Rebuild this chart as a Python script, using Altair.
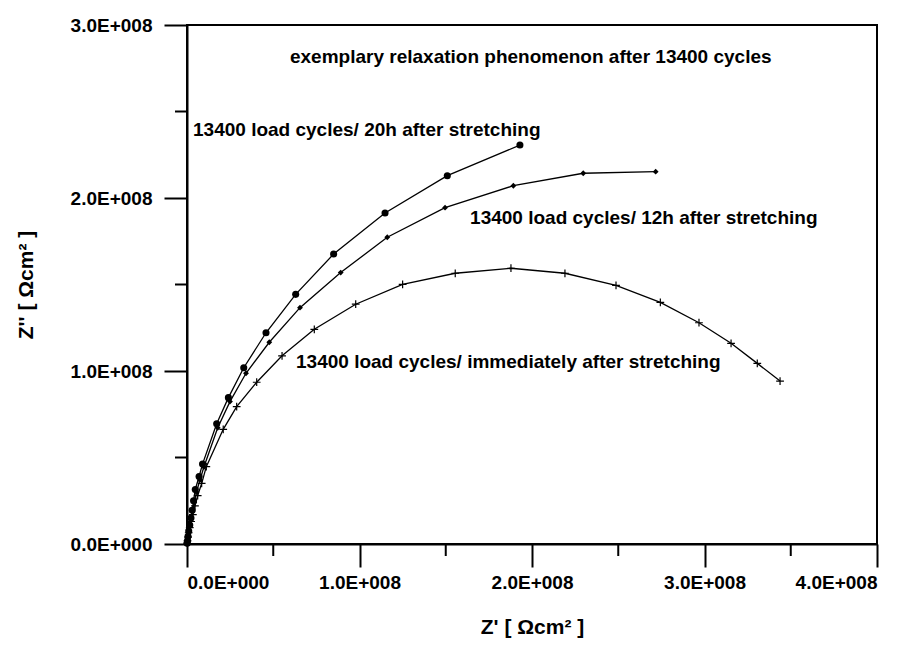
import altair as alt
import pandas as pd

# Series: 13400 load cycles / 20h after stretching (filled circles)
s20_x = [0.001, 0.003, 0.006, 0.010, 0.016, 0.023, 0.030, 0.038, 0.048, 0.070, 0.090,
         0.172, 0.240, 0.329, 0.458, 0.630, 0.850, 1.148, 1.509, 1.930]
s20_y = [0.005, 0.020, 0.045, 0.075, 0.110, 0.150, 0.195, 0.250, 0.315, 0.390, 0.462,
         0.695, 0.846, 1.019, 1.221, 1.443, 1.676, 1.913, 2.129, 2.306]

# Series: 13400 load cycles / 12h after stretching (diamonds)
s12_x = [0.001, 0.003, 0.006, 0.010, 0.016, 0.024, 0.032, 0.042, 0.055, 0.075, 0.098,
         0.178, 0.249, 0.342, 0.477, 0.655, 0.891, 1.161, 1.496, 1.892, 2.297, 2.717]
s12_y = [0.005, 0.020, 0.045, 0.072, 0.105, 0.145, 0.190, 0.240, 0.300, 0.370, 0.445,
         0.672, 0.823, 0.987, 1.166, 1.366, 1.569, 1.773, 1.944, 2.071, 2.143, 2.152]

# Series: 13400 load cycles / immediately after stretching (plus)
s0_x = [0.001, 0.003, 0.006, 0.010, 0.016, 0.024, 0.034, 0.046, 0.062, 0.085, 0.112,
        0.210, 0.288, 0.404, 0.551, 0.738, 0.978, 1.250, 1.555, 1.878, 2.191, 2.487,
        2.744, 2.968, 3.154, 3.306, 3.438]
s0_y = [0.005, 0.018, 0.040, 0.065, 0.095, 0.130, 0.170, 0.220, 0.280, 0.350, 0.447,
        0.663, 0.794, 0.935, 1.088, 1.241, 1.386, 1.501, 1.565, 1.594, 1.565, 1.495,
        1.397, 1.279, 1.160, 1.044, 0.942]

SCALE = 1e8

# Axis ticks (units of 1E8)
x_major = [0, 1, 2, 3, 4]
x_minor = [0.5, 1.5, 2.5, 3.5]
y_major = [0, 1, 2, 3]
y_minor = [0.5, 1.5, 2.5]

# Annotations
ann_text = ["exemplary relaxation phenomenon after 13400 cycles",
            "13400 load cycles/ 20h after stretching",
            "13400 load cycles/ 12h after stretching",
            "13400 load cycles/ immediately after stretching"]
ann_x = [0.597, 0.035, 1.641, 0.632]
ann_y = [2.815, 2.393, 1.884, 1.052]

FONT = "Liberation Sans"

def frame(xs, ys):
    return pd.DataFrame({"x": [v * SCALE for v in xs], "y": [v * SCALE for v in ys]})

d20, d12, d0 = frame(s20_x, s20_y), frame(s12_x, s12_y), frame(s0_x, s0_y)
ann = pd.DataFrame({"t": ann_text, "x": [v * SCALE for v in ann_x], "y": [v * SCALE for v in ann_y]})
xmin_df = pd.DataFrame({"x": [v * SCALE for v in x_minor]})
ymin_df = pd.DataFrame({"y": [v * SCALE for v in y_minor]})

label_expr = ("datum.value == 0 ? '0.0E+000' : "
              "format(datum.value / 100000000, '.1f') + 'E+008'")

xscale = alt.Scale(domain=[0, 4e8], nice=False, zero=False)
yscale = alt.Scale(domain=[0, 3e8], nice=False, zero=False)

x_enc = alt.X("x:Q", scale=xscale,
              axis=alt.Axis(values=[v * SCALE for v in x_major], labelExpr=label_expr,
                            title="Z' [ \u03a9cm\u00b2 ]", grid=False, tickSize=23,
                            tickWidth=2, tickColor="black", domainColor="black", domainWidth=2,
                            labelFont=FONT, labelFontSize=19, labelFontWeight="bold", labelColor="black",
                            labelPadding=6, titleFont=FONT, titleFontSize=21, titleFontWeight="bold",
                            titleColor="black", titlePadding=24))
y_enc = alt.Y("y:Q", scale=yscale,
              axis=alt.Axis(values=[v * SCALE for v in y_major], labelExpr=label_expr,
                            title="Z'' [ \u03a9cm\u00b2 ]", grid=False, tickSize=23,
                            tickWidth=2, tickColor="black", domainColor="black", domainWidth=2,
                            labelFont=FONT, labelFontSize=19, labelFontWeight="bold", labelColor="black",
                            labelPadding=12, titleFont=FONT, titleFontSize=21, titleFontWeight="bold",
                            titleColor="black", titlePadding=34))

def series(df, shape, size, filled):
    line = alt.Chart(df).mark_line(color="black", strokeWidth=1.3).encode(x=x_enc, y=y_enc)
    if filled:
        pts = alt.Chart(df).mark_point(shape=shape, size=size, filled=True, color="black",
                                       opacity=1).encode(x="x:Q", y="y:Q")
    else:
        pts = alt.Chart(df).mark_point(shape=shape, size=size, filled=False, color="black",
                                       strokeWidth=1.2, opacity=1).encode(x="x:Q", y="y:Q")
    return line + pts

plus_path = "M-1,0L1,0M0,-1L0,1"

x_minor_ticks = alt.Chart(xmin_df).mark_rule(color="black", strokeWidth=2).encode(
    x=alt.X("x:Q", scale=xscale), y=alt.value(519), y2=alt.value(531))
y_minor_ticks = alt.Chart(ymin_df).mark_rule(color="black", strokeWidth=2).encode(
    y=alt.Y("y:Q", scale=yscale), x=alt.value(0), x2=alt.value(-12))

texts = alt.Chart(ann).mark_text(align="left", baseline="middle", font=FONT, fontSize=19,
                                  fontWeight="bold", color="black").encode(
    x="x:Q", y="y:Q", text="t:N")

chart = alt.layer(
    series(d20, "circle", 50, True),
    series(d12, "diamond", 34, True),
    series(d0, plus_path, 60, False),
    x_minor_ticks,
    y_minor_ticks,
    texts,
).properties(
    width=690, height=519,
    autosize=alt.AutoSizeParams(type="none"),
    padding={"left": 187, "top": 25, "right": 42, "bottom": 104},
    background="white",
).configure_view(stroke="black", strokeWidth=2)

chart.save("out.html", embed_options={"renderer": "svg", "actions": False})
